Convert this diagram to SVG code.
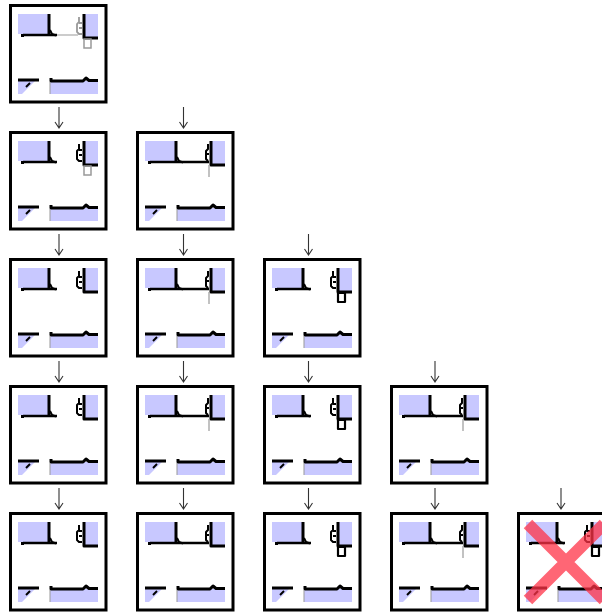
<svg xmlns="http://www.w3.org/2000/svg" xmlns:xlink="http://www.w3.org/1999/xlink" width="602" height="613" viewBox="0 0 602 613">
<style>
.frame{fill:#fff;stroke:#000;stroke-width:3}
.lav{fill:#c8c8ff}
.ln{fill:none;stroke:#000;stroke-linecap:butt;stroke-linejoin:round}
.grey{fill:none;stroke:#999}
.arr{fill:none;stroke:#333;stroke-width:1.1}
.x{stroke:#ff3347;stroke-width:12;opacity:0.75}
</style>
<defs>
<g id="plan">
  <rect class="lav" x="0" y="0" width="30" height="20"/>
  <rect class="lav" x="65" y="0" width="15" height="24"/>
  <polygon class="lav" points="0,67 17,67 4,80 0,80"/>
  <rect class="lav" x="32" y="67" width="48" height="13"/>
  <path class="ln" stroke-width="3" d="M31,0 V21"/>
  <path class="ln" stroke-width="2" d="M32,16 l2,4 l4,1.5"/>
  <rect x="3" y="20" width="3" height="3"/>
  <path class="ln" stroke-width="3" d="M66,0 V24 H80"/>
  <path class="ln" stroke-width="3" d="M0,66 H21"/>
  <path class="ln" stroke-width="2" d="M12,69 L8,73"/>
  <path class="ln" stroke-width="3" d="M33,64 V67 H65 L68,64 L71,66.5 H80"/>
  <path class="grey" stroke-width="1" d="M32,68 V80"/>
</g>
<g id="thumbA">
  <use xlink:href="#plan"/>
  <path class="ln" stroke-width="2.5" d="M5,21 H39"/>
  <path class="ln" stroke-width="2" d="M61,3 v5 l-2,2 v8 l2,2 h3 M61,9 h3 M61,14 h3"/>
</g>
<g id="thumbB">
  <use xlink:href="#plan"/>
  <path class="ln" stroke-width="2.5" d="M5,21 H64"/>
  <path class="ln" stroke-width="2" d="M63,3 v5 l-2,2 v8 l2,2 M61,13 h3"/>
</g>
<path id="sqBlack" class="ln" stroke-width="2.2" d="M66,25 h7 v9 h-7 z"/>
<path id="sqGrey" class="grey" stroke-width="1.5" d="M66,25 h7 v9 h-7 z"/>
<path id="stub" class="grey" stroke-width="1.2" d="M64,24 V36"/>
<path id="arrow" class="arr" d="M0,0 V21 M-4,15 L0,21 L4,15"/>
</defs>

<g id="connectors">
  <use xlink:href="#arrow" x="59" y="107"/>
  <use xlink:href="#arrow" x="183.5" y="107"/>
  <use xlink:href="#arrow" x="59" y="234"/>
  <use xlink:href="#arrow" x="183.5" y="234"/>
  <use xlink:href="#arrow" x="308.5" y="234"/>
  <use xlink:href="#arrow" x="59" y="361"/>
  <use xlink:href="#arrow" x="183.5" y="361"/>
  <use xlink:href="#arrow" x="308.5" y="361"/>
  <use xlink:href="#arrow" x="435" y="361"/>
  <use xlink:href="#arrow" x="59" y="488"/>
  <use xlink:href="#arrow" x="183.5" y="488"/>
  <use xlink:href="#arrow" x="308.5" y="488"/>
  <use xlink:href="#arrow" x="435" y="488"/>
  <use xlink:href="#arrow" x="561" y="488"/>
</g>

<g id="n1-1" transform="translate(9,4)">
  <rect class="frame" x="1.5" y="1.5" width="95.5" height="96.5"/>
  <g transform="translate(9,10)">
    <use xlink:href="#plan"/>
    <path class="ln" stroke-width="2.5" d="M5,21 H39"/>
    <path class="grey" stroke-width="1" d="M39,21 H60"/>
    <path class="grey" stroke-width="1.8" d="M61,3 v5 l-2,2 v8 l2,2 h3 M61,9 h3 M61,14 h3"/>
    <use xlink:href="#sqGrey"/>
  </g>
</g>

<g id="n2-1" transform="translate(9,131)">
  <rect class="frame" x="1.5" y="1.5" width="95.5" height="96.5"/>
  <g transform="translate(9,10)"><use xlink:href="#thumbA"/><use xlink:href="#sqGrey"/></g>
</g>
<g id="n2-2" transform="translate(136,131)">
  <rect class="frame" x="1.5" y="1.5" width="95.5" height="96.5"/>
  <g transform="translate(9,10)"><use xlink:href="#thumbB"/><use xlink:href="#stub"/></g>
</g>

<g id="n3-1" transform="translate(9,258)">
  <rect class="frame" x="1.5" y="1.5" width="95.5" height="96.5"/>
  <g transform="translate(9,10)"><use xlink:href="#thumbA"/></g>
</g>
<g id="n3-2" transform="translate(136,258)">
  <rect class="frame" x="1.5" y="1.5" width="95.5" height="96.5"/>
  <g transform="translate(9,10)"><use xlink:href="#thumbB"/><use xlink:href="#stub"/></g>
</g>
<g id="n3-3" transform="translate(263,258)">
  <rect class="frame" x="1.5" y="1.5" width="95.5" height="96.5"/>
  <g transform="translate(9,10)"><use xlink:href="#thumbA"/><use xlink:href="#sqBlack"/></g>
</g>

<g id="n4-1" transform="translate(9,385)">
  <rect class="frame" x="1.5" y="1.5" width="95.5" height="96.5"/>
  <g transform="translate(9,10)"><use xlink:href="#thumbA"/></g>
</g>
<g id="n4-2" transform="translate(136,385)">
  <rect class="frame" x="1.5" y="1.5" width="95.5" height="96.5"/>
  <g transform="translate(9,10)"><use xlink:href="#thumbB"/><use xlink:href="#stub"/></g>
</g>
<g id="n4-3" transform="translate(263,385)">
  <rect class="frame" x="1.5" y="1.5" width="95.5" height="96.5"/>
  <g transform="translate(9,10)"><use xlink:href="#thumbA"/><use xlink:href="#sqBlack"/></g>
</g>
<g id="n4-4" transform="translate(390,385)">
  <rect class="frame" x="1.5" y="1.5" width="95.5" height="96.5"/>
  <g transform="translate(9,10)"><use xlink:href="#thumbB"/><use xlink:href="#stub"/></g>
</g>

<g id="n5-1" transform="translate(9,512)">
  <rect class="frame" x="1.5" y="1.5" width="95.5" height="96.5"/>
  <g transform="translate(9,10)"><use xlink:href="#thumbA"/></g>
</g>
<g id="n5-2" transform="translate(136,512)">
  <rect class="frame" x="1.5" y="1.5" width="95.5" height="96.5"/>
  <g transform="translate(9,10)"><use xlink:href="#thumbB"/></g>
</g>
<g id="n5-3" transform="translate(263,512)">
  <rect class="frame" x="1.5" y="1.5" width="95.5" height="96.5"/>
  <g transform="translate(9,10)"><use xlink:href="#thumbA"/><use xlink:href="#sqBlack"/></g>
</g>
<g id="n5-4" transform="translate(390,512)">
  <rect class="frame" x="1.5" y="1.5" width="95.5" height="96.5"/>
  <g transform="translate(9,10)"><use xlink:href="#thumbB"/><use xlink:href="#stub"/></g>
</g>
<g id="n5-5" transform="translate(517,512)">
  <rect class="frame" x="1.5" y="1.5" width="95.5" height="96.5"/>
  <g transform="translate(9,10)">
    <use xlink:href="#thumbA"/><use xlink:href="#sqBlack"/>
    <path class="x" d="M2,2 L78,78 M78,2 L2,78"/>
  </g>
</g>
</svg>
